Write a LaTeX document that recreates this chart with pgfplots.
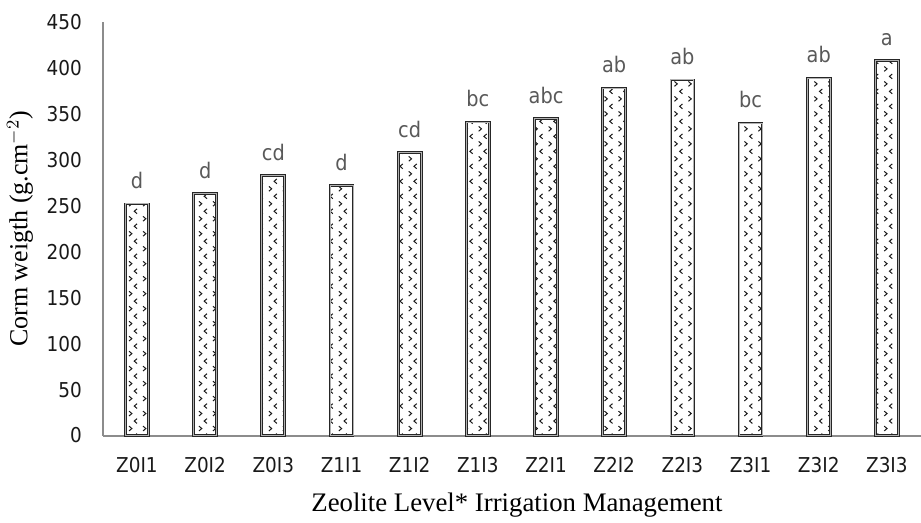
\documentclass[border=0pt]{standalone}
\usepackage{fontspec}
\setmainfont{Liberation Serif}
\newfontfamily\tickfont{DejaVu Sans Condensed}
\usepackage{pgfplots}
\usepackage{pgfplotstable}
\pgfplotsset{compat=1.18}
\usetikzlibrary{patterns}

\pgfdeclarepatternformonly{chev}{\pgfqpoint{-0.5pt}{-0.5pt}}{\pgfqpoint{7.5pt}{8pt}}{\pgfqpoint{7pt}{7.5pt}}{
  \pgfsetlinewidth{0.5pt}
  \pgfpathmoveto{\pgfqpoint{1.6pt}{0.8pt}}\pgfpathlineto{\pgfqpoint{3.0pt}{2.0pt}}\pgfpathlineto{\pgfqpoint{1.6pt}{3.2pt}}
  \pgfpathmoveto{\pgfqpoint{5.6pt}{4.55pt}}\pgfpathlineto{\pgfqpoint{4.2pt}{5.75pt}}\pgfpathlineto{\pgfqpoint{5.6pt}{6.95pt}}
  \pgfusepath{stroke}
}

\pgfplotstableread{
x y lab
0 252 d
1 263 d
2 283 cd
3 272 d
4 308 cd
5 341 bc
6 345 abc
7 378 ab
8 387 ab
9 340 bc
10 389 ab
11 408 a
}\datatable

\begin{document}
\begin{tikzpicture}
\path[use as bounding box] (-51.5pt,-43.5pt) rectangle (409.5pt,218pt);
\begin{axis}[
  at={(0,0)}, anchor=south west,
  scale only axis, width=409.5pt, height=207pt,
  xmin=-0.5, xmax=11.5, ymin=0, ymax=450,
  axis x line=bottom, axis y line=left,
  axis line style={draw=black!45, line width=1pt, -},
  xtick={0,...,11},
  xticklabels={Z0I1,Z0I2,Z0I3,Z1I1,Z1I2,Z1I3,Z2I1,Z2I2,Z2I3,Z3I1,Z3I2,Z3I3},
  ytick={0,50,...,450},
  major tick length=0pt,
  ticklabel style={font=\tickfont\fontsize{10.25}{12}\selectfont, text=black!90},
  /pgf/number format/assume math mode=true,
  yticklabel style={xshift=-7pt},
  xticklabel style={yshift=-7.5pt},
  every axis y label/.style={at={(axis description cs:0,0.5)}, xshift=-41.5pt, rotate=90, anchor=center, font=\fontsize{13}{15}\selectfont},
  every axis x label/.style={at={(axis description cs:0.5,0)}, yshift=-35pt, xshift=2.5pt, anchor=center, font=\fontsize{13.4}{15}\selectfont},
  ylabel={Corm weigth (g.cm$^{-2}$)},
  xlabel={Zeolite Level* Irrigation Management},
  clip=false,
]
\addplot[ybar, bar width=11.5pt, draw=black!85, line width=0.45pt, double=black!30, double distance=0.45pt,
  pattern=chev, pattern color=black!90,
  nodes near coords, point meta=explicit symbolic,
  every node near coord/.append style={font=\tickfont\fontsize{10.75}{12}\selectfont, text=black!65, yshift=4pt}]
  table[x=x, y=y, meta=lab] {\datatable};
\end{axis}
\end{tikzpicture}
\end{document}
